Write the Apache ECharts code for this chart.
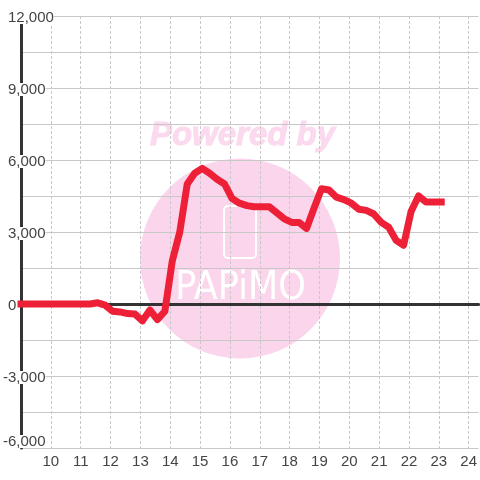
<!DOCTYPE html>
<html>
<head>
<meta charset="utf-8">
<style>html,body{margin:0;padding:0;background:#fff}#main{width:480px;height:480px}</style>
<script src="https://cdn.jsdelivr.net/npm/echarts@6/dist/echarts.min.js"></script>
</head>
<body>
<div id="main"></div>
<script>
// hours of the day and the value read at each one
var hours = [9, 10, 11, 11.32, 11.57, 11.82, 12.07, 12.32, 12.57, 12.82, 13.07, 13.32, 13.57, 13.82, 14.07, 14.32, 14.57, 14.82, 15.07, 15.32, 15.57, 15.82, 16.07, 16.32, 16.57, 16.82, 17.07, 17.32, 17.57, 17.82, 18.07, 18.32, 18.57, 18.82, 19.07, 19.32, 19.57, 19.82, 20.07, 20.32, 20.57, 20.82, 21.07, 21.32, 21.57, 21.82, 22.07, 22.32, 22.57, 22.82, 23.08];
var values = [0, 0, 0, 0, 50, -50, -300, -330, -400, -420, -700, -250, -650, -300, 1800, 3000, 5000, 5450, 5650, 5450, 5200, 5000, 4400, 4200, 4100, 4050, 4050, 4050, 3800, 3550, 3400, 3400, 3150, 4000, 4800, 4750, 4450, 4350, 4200, 3950, 3900, 3750, 3400, 3200, 2650, 2450, 3850, 4500, 4250, 4250, 4250];
var yLabels = [-6000, -3000, 0, 3000, 6000, 9000, 12000];
var xLabels = [10, 11, 12, 13, 14, 15, 16, 17, 18, 19, 20, 21, 22, 23, 24];

var seriesData = [];
for (var i = 0; i < hours.length; i++) {
    seriesData.push([hours[i], values[i]]);
}

var myChart = echarts.init(document.getElementById('main'), null, {renderer: 'canvas'});
var labelFont = {fontFamily: 'Liberation Sans', fontSize: 15, color: '#444'};
// white box under each y label, sitting slightly below the tick
var boxStyle = {fontFamily: 'Liberation Sans', fontSize: 15, color: '#444', backgroundColor: '#fff', height: 13, lineHeight: 16, verticalAlign: 'bottom'};

var option = {
    animation: false,
    backgroundColor: '#fff',
    grid: {left: 20, right: 0, top: 16, bottom: 32},
    // watermark sits under the grid lines
    graphic: {
        elements: [
            {type: 'circle', z: -10, shape: {cx: 240, cy: 258.5, r: 100}, style: {fill: '#fbd5ec'}},
            {type: 'text', z: -10, x: 242.5, y: 136, style: {text: 'Powered by', fill: '#fbd9ee', stroke: '#fbd9ee', lineWidth: 1, font: 'italic bold 33px "Liberation Sans"', textAlign: 'center', textVerticalAlign: 'middle'}},
            {type: 'rect', z: -10, shape: {x: 224, y: 206, width: 32, height: 52, r: 4}, style: {fill: 'none', stroke: '#fff', lineWidth: 2}},
            {type: 'text', z: -10, x: 240.5, y: 289, style: {text: 'PAPiMO', fill: '#fff', font: '39px "DejaVu Sans Condensed"', textAlign: 'center', textVerticalAlign: 'middle'}}
        ]
    },
    xAxis: [
        {
            type: 'value', min: 9, max: 24.33, interval: 1,
            position: 'bottom',
            axisLine: {show: false, onZero: false},
            axisTick: {show: false},
            axisLabel: Object.assign({margin: 6, showMinLabel: false, showMaxLabel: false, formatter: function (v) {
                return xLabels.indexOf(v) >= 0 ? String(v) : '';
            }}, labelFont),
            splitLine: {show: true, showMinLine: false, showMaxLine: false, lineStyle: {color: '#c8c8c8', type: [3, 2], width: 1}}
        },
        {
            // heavy line through zero
            type: 'value', min: 9, max: 24.33, interval: 1,
            position: 'top',
            axisLine: {show: true, onZero: true, lineStyle: {color: '#333', width: 3}},
            axisTick: {show: false},
            axisLabel: {show: false},
            splitLine: {show: false}
        }
    ],
    yAxis: {
        type: 'value', min: -6000, max: 12000, interval: 1500,
        axisLine: {show: true, onZero: false, lineStyle: {color: '#333', width: 3}},
        axisTick: {show: false},
        axisLabel: {
            margin: 18,
            align: 'left',
            formatter: function (v) {
                if (yLabels.indexOf(v) < 0) return '';
                var s = Math.abs(v).toString().replace(/\B(?=(\d{3})+$)/g, ',');
                // lowest label is pushed up above its grid line
                if (v === yLabels[0]) return '{low|-' + s + '}';
                return v < 0 ? '{neg|-' + s + '}' : '{pos|' + s + '}';
            },
            rich: {
                neg: boxStyle,
                low: Object.assign({}, boxStyle, {lineHeight: 26, verticalAlign: 'top'}),
                pos: Object.assign({padding: [0, 0, 0, 5]}, boxStyle)
            }
        },
        splitLine: {show: true, lineStyle: {color: '#c8c8c8', width: 1}}
    },
    series: [{
        type: 'line',
        data: seriesData,
        xAxisIndex: 0,
        showSymbol: false,
        symbol: 'none',
        smooth: false,
        clip: false,
        z: 5,
        lineStyle: {color: '#ee2038', width: 7, cap: 'square', join: 'round'}
    }]
};
myChart.setOption(option);
</script>
</body>
</html>
